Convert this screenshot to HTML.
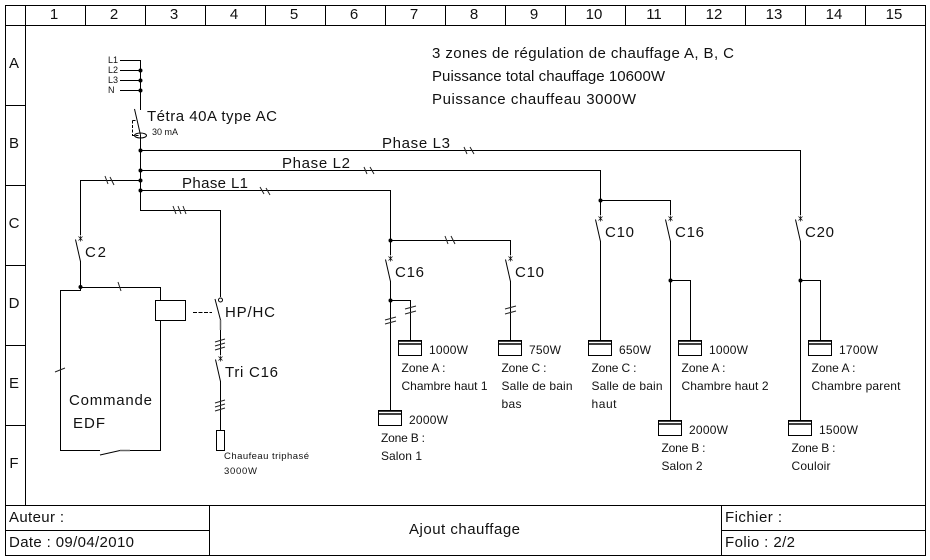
<!DOCTYPE html>
<html><head><meta charset="utf-8"><style>
html,body{margin:0;padding:0;background:#fff}
svg{display:block}
text{font-family:"Liberation Sans",sans-serif;fill:#111}
.l{fill:none;stroke:#000;stroke-width:1}
.t{fill:none;stroke:#222;stroke-width:1}
.n{fill:#000}
</style></head><body>
<svg width="930" height="560" viewBox="0 0 930 560" xmlns="http://www.w3.org/2000/svg">
<defs>
<g id="brk" class="l"><path d="M-2 -2L2 2M-2 2L2 -2M0 -3V3" stroke-width="0.7"/><path d="M-5 1L0 23V23"/></g>
<g id="h"><rect x="0.5" y="0.5" width="23" height="15" fill="#fff" stroke="#000"/><path d="M0 1H24M0 4H24" stroke="#000" stroke-width="1.4"/></g>
</defs>
<rect width="930" height="560" fill="#fff"/>
<path class="l" d="M5.5 5.5H925.5V555.5H5.5ZM5.5 25.5H925.5M25.5 5.5V505.5M5.5 505.5H925.5
M85.5 5.5V25.5M145.5 5.5V25.5M205.5 5.5V25.5M265.5 5.5V25.5M325.5 5.5V25.5M385.5 5.5V25.5M445.5 5.5V25.5M505.5 5.5V25.5M565.5 5.5V25.5M625.5 5.5V25.5M685.5 5.5V25.5M745.5 5.5V25.5M805.5 5.5V25.5M865.5 5.5V25.5
M5.5 105.5H25.5M5.5 185.5H25.5M5.5 265.5H25.5M5.5 345.5H25.5M5.5 425.5H25.5
M209.5 505.5V555.5M721.5 505.5V555.5M5.5 530.5H209.5M721.5 530.5H925.5"/>
<g font-size="15" text-anchor="middle">
<text x="54" y="19">1</text><text x="114" y="19">2</text><text x="174" y="19">3</text><text x="234" y="19">4</text><text x="294" y="19">5</text><text x="354" y="19">6</text><text x="414" y="19">7</text><text x="474" y="19">8</text><text x="534" y="19">9</text><text x="594" y="19">10</text><text x="654" y="19">11</text><text x="714" y="19">12</text><text x="774" y="19">13</text><text x="834" y="19">14</text><text x="894" y="19">15</text>
<text x="14" y="68">A</text><text x="14" y="148">B</text><text x="14" y="228">C</text><text x="14" y="308">D</text><text x="14" y="388">E</text><text x="14" y="468">F</text>
</g>

<!-- wiring -->
<path class="l" d="M120 60.5H140.5V110M120 70.5H140.5M120 80.5H140.5M120 90.5H140.5
M140.5 135V210.5H220.5V297
M140.5 150.5H800.5V215M140.5 170.5H600.5V215M140.5 190.5H390.5V255
M140.5 180.5H80.5V235
M600.5 200.5H670.5V215
M134.5 109L140.5 135"/>
<path d="M132.5 120.5V135.5H139M132.5 120.5H137" fill="none" stroke="#000" stroke-dasharray="3 1.5"/>
<ellipse cx="140.5" cy="135.5" rx="6" ry="2.5" fill="none" stroke="#000"/>
<g class="n"><circle cx="140.5" cy="70.5" r="2"/><circle cx="140.5" cy="80.5" r="2"/><circle cx="140.5" cy="90.5" r="2"/><circle cx="140.5" cy="150.5" r="2"/><circle cx="140.5" cy="170.5" r="2"/><circle cx="140.5" cy="180.5" r="2"/><circle cx="140.5" cy="190.5" r="2"/><circle cx="600.5" cy="200.5" r="2"/><circle cx="80.5" cy="287" r="2"/><circle cx="390.5" cy="240.5" r="2"/><circle cx="390.5" cy="300.5" r="2"/><circle cx="670.5" cy="280.5" r="2"/><circle cx="800.5" cy="280.5" r="2"/></g>

<!-- C2 and command -->
<use href="#brk" x="80.5" y="238.5"/>
<path class="l" d="M80.5 261V290.5H60.5V450.5H100M80.5 287.5H160.5V450.5H130M100 455L120 450.5"/>
<path d="M120 450.5H130" stroke="#666" stroke-width="1.5"/>
<path class="t" d="M118 282L121 291M55 372L65 368"/>
<rect x="155.5" y="300.5" width="30" height="20" fill="#fff" stroke="#000"/>
<path d="M193 312.5H212" stroke="#000" stroke-dasharray="4 1.5"/>

<!-- HP/HC + Tri -->
<circle cx="220.5" cy="300" r="2" fill="#fff" stroke="#000"/>
<path class="l" d="M215 299L220.5 320M220.5 330V355M220.5 381V430"/>
<path d="M220.5 320V330" stroke="#666" stroke-width="1.5"/>
<use href="#brk" x="220.5" y="358.5"/>
<rect x="216.5" y="430.5" width="8" height="20" fill="#fff" stroke="#000"/>
<path class="t" d="M215 342L225 339M215 346L225 343M215 350L225 347M215 403L225 400M215 407L225 404M215 411L225 408"/>

<!-- feeders -->
<path class="l" d="M390.5 240.5H510.5V255M390.5 281V410M390.5 300.5H410.5V340M510.5 281V340M600.5 241V340M670.5 241V420M670.5 280.5H690.5V340M800.5 241V420M800.5 280.5H820.5V340"/>
<use href="#brk" x="390.5" y="258.5"/><use href="#brk" x="510.5" y="258.5"/><use href="#brk" x="600.5" y="218.5"/><use href="#brk" x="670.5" y="218.5"/><use href="#brk" x="800.5" y="218.5"/>

<!-- cable ticks -->
<path class="t" d="M105 176L108 184M110 177L114 185M260 187L264 194M266 188L270 195M364 167L367 174M370 167L374 174M464 147L467 154M470 147L474 154M445 236L448 244M451 236L455 244M173 206L176 214M178 206L181 214M183 206L186 214
M405 309L416 306M405 314L416 311M385 320L396 317M385 324L396 321M505 309L516 306M505 314L516 311"/>

<!-- heaters -->
<use href="#h" x="398" y="340"/><use href="#h" x="378" y="410"/><use href="#h" x="498" y="340"/><use href="#h" x="588" y="340"/><use href="#h" x="678" y="340"/><use href="#h" x="658" y="420"/><use href="#h" x="808" y="340"/><use href="#h" x="788" y="420"/>

<!-- large labels -->
<g font-size="15">
<text x="432" y="58" textLength="302">3 zones de régulation de chauffage A, B, C</text>
<text x="432" y="81" textLength="233">Puissance total chauffage 10600W</text>
<text x="432" y="104" textLength="204">Puissance chauffeau 3000W</text>
<text x="147" y="121" textLength="130">Tétra 40A type AC</text>
<text x="382" y="148" textLength="68">Phase L3</text>
<text x="282" y="168" textLength="68">Phase L2</text>
<text x="182" y="188" textLength="66">Phase L1</text>
<text x="85" y="257" textLength="21">C2</text>
<text x="225" y="317" textLength="50">HP/HC</text>
<text x="225" y="377" textLength="53">Tri C16</text>
<text x="69" y="405" textLength="83">Commande</text>
<text x="73" y="428" textLength="32">EDF</text>
<text x="395" y="277" textLength="29">C16</text>
<text x="515" y="277" textLength="29">C10</text>
<text x="605" y="237" textLength="29">C10</text>
<text x="675" y="237" textLength="29">C16</text>
<text x="805" y="237" textLength="29">C20</text>
<text x="9" y="522" textLength="55">Auteur :</text>
<text x="9" y="547" textLength="125">Date : 09/04/2010</text>
<text x="409" y="534" textLength="111">Ajout chauffage</text>
<text x="725" y="522" textLength="57">Fichier :</text>
<text x="725" y="547" textLength="70">Folio : 2/2</text>
</g>

<!-- small labels -->
<g font-size="9">
<text x="108" y="63">L1</text><text x="108" y="73">L2</text><text x="108" y="83">L3</text><text x="108" y="93">N</text>
<text x="152" y="135" textLength="26">30 mA</text>
</g>
<g font-size="9.5">
<text x="224" y="459" textLength="85">Chaufeau triphasé</text>
<text x="224" y="474" textLength="33">3000W</text>
</g>
<g font-size="12">
<text x="429" y="354" textLength="39">1000W</text>
<text x="401.5" y="372" textLength="44">Zone A :</text>
<text x="401.5" y="390" textLength="86">Chambre haut 1</text>
<text x="409" y="424" textLength="39">2000W</text>
<text x="381" y="442" textLength="44">Zone B :</text>
<text x="381" y="460" textLength="41">Salon 1</text>
<text x="529" y="354" textLength="32">750W</text>
<text x="501.5" y="372" textLength="45">Zone C :</text>
<text x="501.5" y="390" textLength="71">Salle de bain</text>
<text x="501.5" y="408" textLength="20">bas</text>
<text x="619" y="354" textLength="32">650W</text>
<text x="591.5" y="372" textLength="45">Zone C :</text>
<text x="591.5" y="390" textLength="71">Salle de bain</text>
<text x="591.5" y="408" textLength="25">haut</text>
<text x="709" y="354" textLength="39">1000W</text>
<text x="681.5" y="372" textLength="44">Zone A :</text>
<text x="681.5" y="390" textLength="87">Chambre haut 2</text>
<text x="689" y="434" textLength="39">2000W</text>
<text x="661.5" y="452" textLength="44">Zone B :</text>
<text x="661.5" y="470" textLength="41">Salon 2</text>
<text x="839" y="354" textLength="39">1700W</text>
<text x="811.5" y="372" textLength="44">Zone A :</text>
<text x="811.5" y="390" textLength="89">Chambre parent</text>
<text x="819" y="434" textLength="39">1500W</text>
<text x="791.5" y="452" textLength="44">Zone B :</text>
<text x="791.5" y="470" textLength="39">Couloir</text>
</g>
</svg>
</body></html>
